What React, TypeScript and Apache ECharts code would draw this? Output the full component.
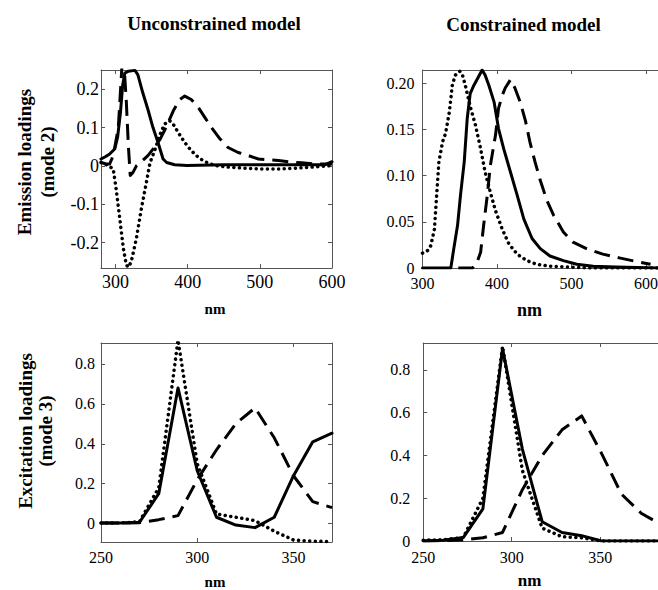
import React, { useEffect, useRef } from "react";
import * as echarts from "echarts";

// ---------- Panel 1: Emission loadings, unconstrained model ----------
const p1SolidX = [280, 286, 292, 299, 303, 307, 310, 313, 318, 327, 331, 338, 345, 352, 359, 366, 371, 382, 399, 450, 500, 550, 590, 600];
const p1SolidY = [0.018, 0.024, 0.031, 0.044, 0.075, 0.14, 0.21, 0.242, 0.247, 0.249, 0.238, 0.19, 0.147, 0.1, 0.061, 0.018, 0.009, 0.003, 0.001, 0.003, 0.003, 0.003, 0.003, 0.011];
const p1DashX = [280, 287, 292, 297, 304, 309, 312, 315, 318, 320.5, 324, 329, 336, 345, 352, 362, 371, 380, 389, 396, 405, 415, 424, 433, 445, 456, 470, 484, 498, 512, 526, 540, 558, 577, 600];
const p1DashY = [0.009, 0.005, 0.005, 0.027, 0.1, 0.26, 0.26, 0.17, 0.05, -0.025, -0.018, 0.0, 0.011, 0.027, 0.044, 0.07, 0.104, 0.143, 0.173, 0.182, 0.173, 0.152, 0.126, 0.1, 0.07, 0.048, 0.035, 0.027, 0.018, 0.016, 0.014, 0.011, 0.008, 0.005, 0.005];
const p1DotX = [280, 290, 297, 301, 306, 311, 315, 318, 322, 329, 336, 343, 348, 355, 362, 368, 375, 380, 387, 396, 405, 415, 424, 438, 456, 480, 503, 526, 549, 572, 600];
const p1DotY = [0.009, 0.001, -0.008, -0.06, -0.137, -0.215, -0.258, -0.264, -0.249, -0.189, -0.111, -0.042, 0.009, 0.044, 0.083, 0.109, 0.118, 0.109, 0.087, 0.061, 0.04, 0.022, 0.011, 0.001, -0.003, -0.006, -0.008, -0.008, -0.006, -0.003, 0.001];

// ---------- Panel 2: Emission loadings, constrained model ----------
const p2SolidX = [300, 338, 342, 347, 351, 356, 360, 364, 369, 375, 380, 384, 389, 396, 402, 409, 418, 427, 436, 447, 458, 471, 489, 507, 529, 560, 616];
const p2SolidY = [0, 0, 0.021, 0.046, 0.079, 0.115, 0.162, 0.189, 0.198, 0.207, 0.2145, 0.209, 0.198, 0.18, 0.151, 0.129, 0.104, 0.079, 0.053, 0.032, 0.021, 0.013, 0.008, 0.004, 0.002, 0.001, 0];
const p2DashX = [348, 367, 373, 378, 382, 387, 391, 398, 402, 407, 411, 418, 424, 431, 438, 444, 451, 458, 467, 476, 489, 502, 520, 542, 564, 587, 606];
const p2DashY = [0, 0, 0.006, 0.017, 0.046, 0.079, 0.111, 0.144, 0.173, 0.187, 0.195, 0.204, 0.195, 0.18, 0.16, 0.137, 0.115, 0.095, 0.073, 0.057, 0.039, 0.028, 0.021, 0.015, 0.011, 0.007, 0.004];
const p2DotX = [300, 307, 311, 316, 319, 322, 327, 331, 336, 340, 344, 350, 353, 358, 364, 371, 378, 384, 391, 398, 407, 416, 427, 440, 453, 471, 498, 524, 616];
const p2DotY = [0.016, 0.019, 0.024, 0.042, 0.079, 0.115, 0.137, 0.146, 0.169, 0.198, 0.209, 0.213, 0.211, 0.196, 0.175, 0.155, 0.129, 0.104, 0.082, 0.062, 0.042, 0.026, 0.015, 0.008, 0.004, 0.002, 0.001, 0, 0];

// ---------- Panel 3: Excitation loadings, unconstrained model ----------
const p3X = [250, 260, 270, 280, 290, 300, 310, 320, 330, 340, 350, 360, 370];
const p3Solid = [0.003, 0.003, 0.007, 0.15, 0.68, 0.265, 0.032, -0.007, -0.02, 0.032, 0.24, 0.41, 0.453];
const p3Dash = [0.003, 0.003, 0.005, 0.02, 0.04, 0.22, 0.37, 0.5, 0.58, 0.43, 0.24, 0.11, 0.08];
const p3Dot = [0.003, 0.003, 0.01, 0.18, 0.92, 0.3, 0.048, 0.032, 0.015, -0.038, -0.082, -0.088, -0.09];

// ---------- Panel 4: Excitation loadings, constrained model ----------
const p4X = [250, 261.2, 272.6, 283.7, 294.8, 306, 317.2, 328.4, 339.5, 350.7, 361.9, 373.1, 382.6];
const p4Solid = [0, 0.003, 0.016, 0.15, 0.9, 0.43, 0.09, 0.04, 0.025, 0, 0, 0, 0];
const p4Dash = [0, 0.002, 0.005, 0.015, 0.04, 0.24, 0.4, 0.52, 0.585, 0.41, 0.22, 0.13, 0.085];
const p4Dot = [0.004, 0.006, 0.016, 0.2, 0.91, 0.33, 0.06, 0.02, 0.015, 0, 0, 0, 0];

// ---------- Texts ----------
const colTitles = ["Unconstrained model", "Constrained model"];
const rowTitles = [["Emission loadings", "(mode 2)"], ["Excitation loadings", "(mode 3)"]];
const xAxisName = "nm";

const SERIF = '"Liberation Serif", "Times New Roman", serif';

const zip = (xs: number[], ys: number[]) => xs.map((x, i) => [x, ys[i]]);
const isMult = (v: number, s: number) => Math.abs(v / s - Math.round(v / s)) < 1e-6;

const solidStyle = { color: "#000", width: 3, type: "solid", cap: "round", join: "round" };
const dashStyle = { color: "#000", width: 3, type: [16, 8], cap: "butt", join: "round" };
const dotStyle = { color: "#000", width: 3.5, type: [0.1, 5.5], cap: "round", join: "round" };

type Panel = {
  left: number; top: number; width: number; height: number;
  xMin: number; xMax: number; xInterval?: number; xSplit?: number; xStep: number;
  yMin: number; yMax: number; yInterval?: number; ySplit?: number; yStep: number; yDigits: number;
  font: number; xMargin: number; yMargin: number; showRight: boolean;
  curves: { data: number[][]; style: any }[];
};

const panels: Panel[] = [
  {
    left: 101, top: 70, width: 231, height: 198,
    xMin: 280, xMax: 600, xSplit: 3, xStep: 100,
    yMin: -0.266, yMax: 0.25, ySplit: 5, yStep: 0.1, yDigits: 1,
    font: 18, xMargin: 6, yMargin: 2, showRight: true,
    curves: [
      { data: zip(p1DotX, p1DotY), style: dotStyle },
      { data: zip(p1DashX, p1DashY), style: dashStyle },
      { data: zip(p1SolidX, p1SolidY), style: solidStyle },
    ],
  },
  {
    left: 422.5, top: 70, width: 235.5, height: 198,
    xMin: 300, xMax: 616, xInterval: 100, xStep: 100,
    yMin: 0, yMax: 0.2145, yInterval: 0.05, yStep: 0.05, yDigits: 2,
    font: 16, xMargin: 8, yMargin: 8, showRight: false,
    curves: [
      { data: zip(p2DotX, p2DotY), style: dotStyle },
      { data: zip(p2DashX, p2DashY), style: dashStyle },
      { data: zip(p2SolidX, p2SolidY), style: solidStyle },
    ],
  },
  {
    left: 101, top: 343, width: 231, height: 199,
    xMin: 250, xMax: 370, xInterval: 50, xStep: 50,
    yMin: -0.092, yMax: 0.905, ySplit: 5, yStep: 0.2, yDigits: 1,
    font: 16, xMargin: 8, yMargin: 6, showRight: true,
    curves: [
      { data: zip(p3X, p3Dot), style: dotStyle },
      { data: zip(p3X, p3Dash), style: dashStyle },
      { data: zip(p3X, p3Solid), style: solidStyle },
    ],
  },
  {
    left: 423.2, top: 343, width: 234.8, height: 198,
    xMin: 250, xMax: 382.6, xInterval: 50, xStep: 50,
    yMin: 0, yMax: 0.926, yInterval: 0.2, yStep: 0.2, yDigits: 1,
    font: 16, xMargin: 9, yMargin: 13, showRight: false,
    curves: [
      { data: zip(p4X, p4Dot), style: dotStyle },
      { data: zip(p4X, p4Dash), style: dashStyle },
      { data: zip(p4X, p4Solid), style: solidStyle },
    ],
  },
];

const LINE = "#555";
const TICK = { show: true, inside: true, length: 4, lineStyle: { color: "#555", width: 1 } };

function buildOption() {
  const grid: any[] = [];
  const xAxis: any[] = [];
  const yAxis: any[] = [];
  const series: any[] = [];
  panels.forEach((p, i) => {
    grid.push({ left: p.left, top: p.top, width: p.width, height: p.height, containLabel: false, outerBoundsMode: "none", show: false });
    const xBase: any = { type: "value", gridIndex: i, min: p.xMin, max: p.xMax, splitLine: { show: false }, axisTick: TICK, axisLine: { show: true, onZero: false, lineStyle: { color: LINE, width: 1 } } };
    if (p.xInterval) xBase.interval = p.xInterval; else xBase.splitNumber = p.xSplit;
    const yBase: any = { type: "value", gridIndex: i, min: p.yMin, max: p.yMax, splitLine: { show: false }, axisTick: TICK, axisLine: { show: true, onZero: false, lineStyle: { color: LINE, width: 1 } } };
    if (p.yInterval) yBase.interval = p.yInterval; else yBase.splitNumber = p.ySplit;
    xAxis.push({
      ...xBase, position: "bottom",
      axisLabel: {
        show: true, margin: p.xMargin, color: "#000", fontFamily: SERIF, fontSize: p.font,
        lineHeight: p.font - 2,
        formatter: (v: number) => (isMult(v, p.xStep) ? String(Math.round(v)) : ""),
      },
    });
    xAxis.push({ ...xBase, position: "top", axisLabel: { show: false } });
    yAxis.push({
      ...yBase, position: "left",
      axisLabel: {
        show: true, margin: p.yMargin, color: "#000", fontFamily: SERIF, fontSize: p.font,
        lineHeight: p.font - 3,
        formatter: (v: number) => (isMult(v, p.yStep) ? (Math.abs(v) < 1e-9 ? "0" : v.toFixed(p.yDigits)) : ""),
      },
    });
    yAxis.push({
      ...yBase, position: "right", axisLabel: { show: false },
      axisLine: { show: p.showRight, onZero: false, lineStyle: { color: LINE, width: 1 } },
      axisTick: { ...TICK, show: p.showRight },
    });
    p.curves.forEach((c) => {
      series.push({
        type: "line", xAxisIndex: 2 * i, yAxisIndex: 2 * i, data: c.data,
        showSymbol: false, symbol: "none", clip: true, silent: true,
        lineStyle: c.style,
      });
    });
  });

  const txt = (text: string, x: number, y: number, size: number, rot = 0) => ({
    type: "text", x, y, rotation: rot, silent: true,
    style: {
      text, fill: "#000", fontFamily: SERIF, fontSize: size, fontWeight: "bold",
      align: "center", verticalAlign: "middle", textAlign: "center", textVerticalAlign: "middle",
    },
  });

  const graphic = [
    txt(colTitles[0], 214, 23, 19),
    txt(colTitles[1], 523.5, 24, 19),
    txt(xAxisName, 215, 309, 15),
    txt(xAxisName, 529.5, 310, 18),
    txt(xAxisName, 215, 582, 15),
    txt(xAxisName, 529.5, 580.5, 17),
    txt(rowTitles[0][0], 24, 162, 19, Math.PI / 2),
    txt(rowTitles[0][1], 47, 162, 19, Math.PI / 2),
    txt(rowTitles[1][0], 25, 431, 19, Math.PI / 2),
    txt(rowTitles[1][1], 45.5, 431, 19, Math.PI / 2),
  ];

  return { animation: false, backgroundColor: "#fff", grid, xAxis, yAxis, series, graphic };
}

export default function App() {
  const ref = useRef<HTMLDivElement>(null);
  useEffect(() => {
    if (!ref.current) return;
    const chart = echarts.init(ref.current, undefined, { renderer: "svg" });
    chart.setOption(buildOption() as any);
    return () => chart.dispose();
  }, []);
  return (
    <div
      ref={ref}
      style={{ position: "fixed", left: 0, top: 0, width: 658, height: 590, background: "#fff" }}
    />
  );
}
